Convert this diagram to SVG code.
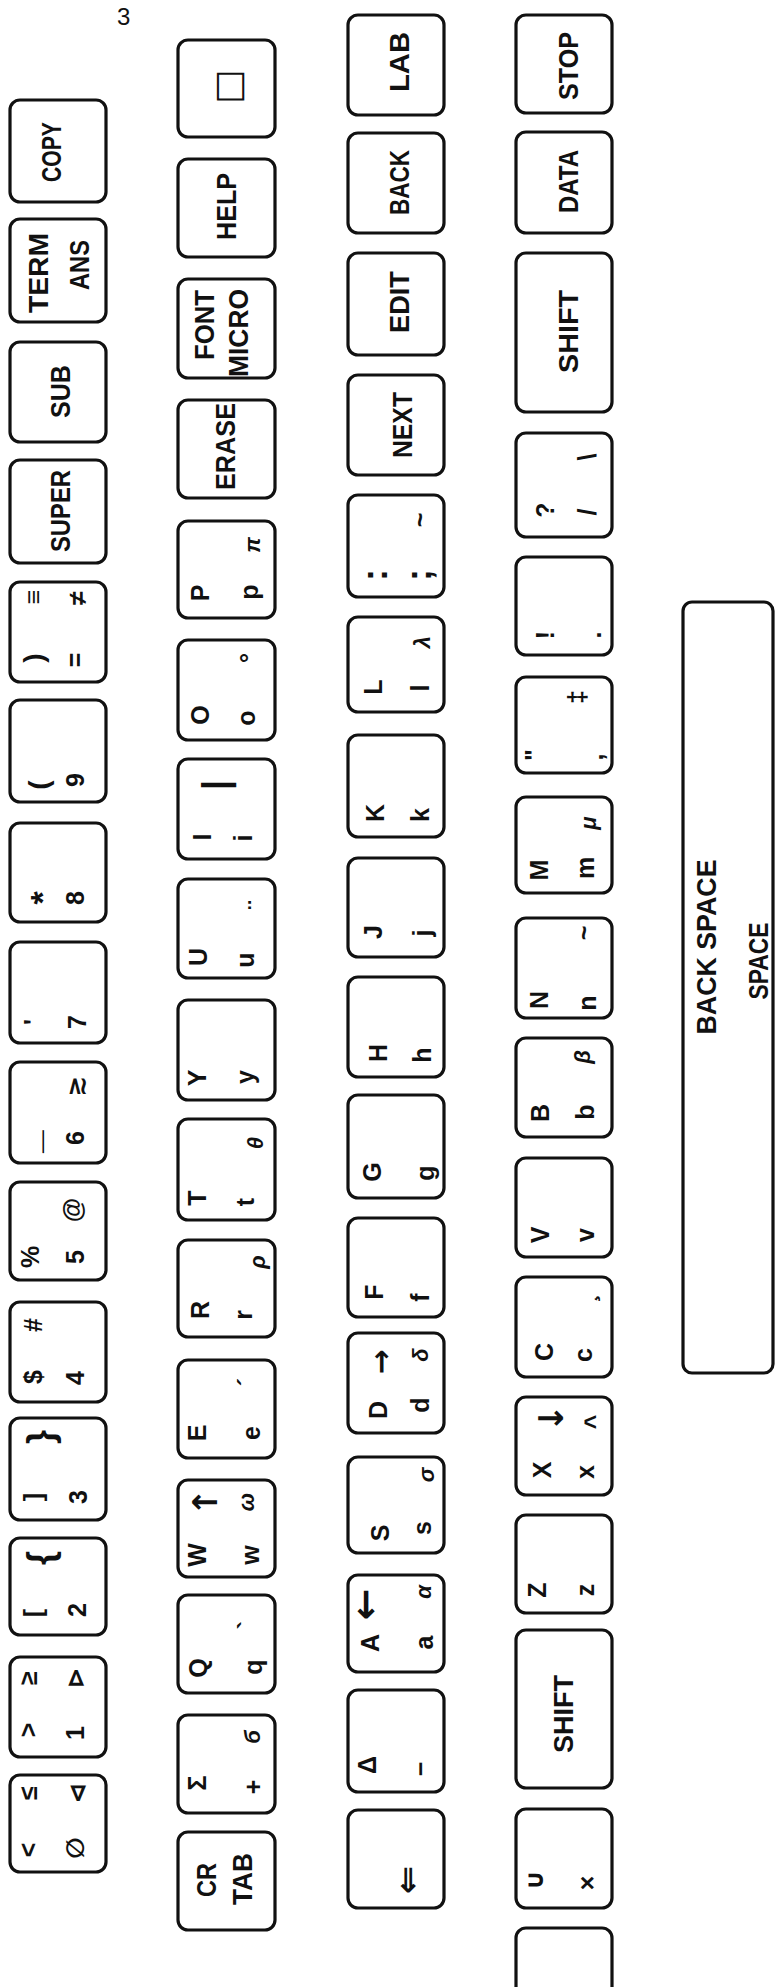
<svg xmlns="http://www.w3.org/2000/svg" width="777" height="1987" viewBox="0 0 777 1987">
<style>
.k rect{fill:none;stroke:#111;stroke-width:3.2}
text{font-family:"Liberation Sans","DejaVu Sans",sans-serif;font-weight:bold;text-anchor:middle;dominant-baseline:central;fill:#111}
.g{font-size:25px}
.s{font-size:22px;font-style:italic}
.n{font-size:27px}
.b{font-size:36px}
.a{font-family:"DejaVu Sans",sans-serif;font-size:34px}
.p{font-weight:normal;font-size:24px;text-anchor:start;dominant-baseline:auto}
</style>
<rect width="777" height="1987" fill="#fff"/>
<text class="p" x="117" y="25">3</text>

<g id="row1">
<g id="k-copy" class="k" transform="translate(58 151) rotate(-90)"><rect x="-51" y="-48" width="102" height="96" rx="10"/><text class="n" x="-1" y="-6" textLength="60" lengthAdjust="spacingAndGlyphs">COPY</text></g>
<g id="k-term" class="k" transform="translate(58 270.5) rotate(-90)"><rect x="-51.5" y="-48" width="103" height="96" rx="10"/><text class="n" x="-2.5" y="-19" textLength="80" lengthAdjust="spacingAndGlyphs">TERM</text><text class="n" x="5.5" y="22" textLength="50" lengthAdjust="spacingAndGlyphs">ANS</text></g>
<g id="k-sub" class="k" transform="translate(58 392) rotate(-90)"><rect x="-50" y="-48" width="100" height="96" rx="10"/><text class="n" x="0.5" y="3" textLength="53" lengthAdjust="spacingAndGlyphs">SUB</text></g>
<g id="k-super" class="k" transform="translate(58 511.5) rotate(-90)"><rect x="-51.5" y="-48" width="103" height="96" rx="10"/><text class="n" x="0.5" y="3" textLength="82" lengthAdjust="spacingAndGlyphs">SUPER</text></g>
<g id="k-equals" class="k" transform="translate(58 632) rotate(-90)"><rect x="-50" y="-48" width="100" height="96" rx="10"/><text class="g" x="-26" y="-25" style="font-size:28px">)</text><text class="g" x="-28" y="17">=</text><text class="g" x="35" y="-25">≡</text><text class="g" x="34" y="19">≠</text></g>
<g id="k-9" class="k" transform="translate(58 751) rotate(-90)"><rect x="-51" y="-48" width="102" height="96" rx="10"/><text class="g" x="-34" y="-20" style="font-size:28px">(</text><text class="g" x="-29" y="17">9</text></g>
<g id="k-8" class="k" transform="translate(58 872.5) rotate(-90)"><rect x="-49.5" y="-48" width="99" height="96" rx="10"/><text class="g" x="-25.5" y="-16" style="font-size:34px">*</text><text class="g" x="-25.5" y="17">8</text></g>
<g id="k-7" class="k" transform="translate(58 992.5) rotate(-90)"><rect x="-50.5" y="-48" width="101" height="96" rx="10"/><text class="g" x="-29.5" y="-25">'</text><text class="g" x="-29.5" y="19">7</text></g>
<g id="k-6" class="k" transform="translate(58 1112.5) rotate(-90)"><rect x="-50.5" y="-48" width="101" height="96" rx="10"/><text class="g" x="-29" y="-19" style="dominant-baseline:auto;font-size:40px">_</text><text class="g" x="-25.5" y="17">6</text><text class="g" x="26.5" y="17">≳</text></g>
<g id="k-5" class="k" transform="translate(58 1231) rotate(-90)"><rect x="-49" y="-48" width="98" height="96" rx="10"/><text class="g" x="-26" y="-28">%</text><text class="g" x="-26" y="17">5</text><text class="g" x="21" y="14">@</text></g>
<g id="k-4" class="k" transform="translate(58 1352) rotate(-90)"><rect x="-50" y="-48" width="100" height="96" rx="10"/><text class="g" x="-25" y="-25">$</text><text class="g" x="-26" y="17">4</text><text class="g" x="27" y="-25">#</text></g>
<g id="k-3" class="k" transform="translate(58 1469) rotate(-90)"><rect x="-51" y="-48" width="102" height="96" rx="10"/><text class="g" x="-28" y="-25">]</text><text class="g" x="-28" y="20">3</text><text class="b" x="32" y="-18">}</text></g>
<g id="k-2" class="k" transform="translate(58 1586.5) rotate(-90)"><rect x="-48.5" y="-48" width="97" height="96" rx="10"/><text class="g" x="-26.5" y="-25">[</text><text class="g" x="-23.5" y="19">2</text><text class="b" x="28.5" y="-18">{</text></g>
<g id="k-1" class="k" transform="translate(58 1707) rotate(-90)"><rect x="-50" y="-48" width="100" height="96" rx="10"/><text class="g" x="-23" y="-30">&gt;</text><text class="g" x="-26" y="17">1</text><text class="g" x="29" y="-30">≥</text><text class="g" x="29" y="17">⊳</text></g>
<g id="k-0" class="k" transform="translate(58 1823.5) rotate(-90)"><rect x="-48.5" y="-48" width="97" height="96" rx="10"/><text class="g" x="-26.5" y="-30">&lt;</text><text class="g" x="-24.5" y="17">∅</text><text class="g" x="30.5" y="-30">≤</text><text class="g" x="30.5" y="19">⊲</text></g>
</g>

<g id="row2">
<g id="k-square" class="k" transform="translate(226.5 88.5) rotate(-90)"><rect x="-48.5" y="-48.5" width="97" height="97" rx="10"/><text class="g" x="2" y="0.5" style="font-size:36px;font-family:'DejaVu Sans',sans-serif">□</text></g>
<g id="k-help" class="k" transform="translate(226.5 208) rotate(-90)"><rect x="-49" y="-48.5" width="98" height="97" rx="10"/><text class="n" x="1.5" y="0" textLength="67" lengthAdjust="spacingAndGlyphs">HELP</text></g>
<g id="k-font" class="k" transform="translate(226.5 328.5) rotate(-90)"><rect x="-49.5" y="-48.5" width="99" height="97" rx="10"/><text class="n" x="3.5" y="-21.5" textLength="70" lengthAdjust="spacingAndGlyphs">FONT</text><text class="n" x="-4.5" y="12.5" textLength="88" lengthAdjust="spacingAndGlyphs">MICRO</text></g>
<g id="k-erase" class="k" transform="translate(226.5 449) rotate(-90)"><rect x="-49" y="-48.5" width="98" height="97" rx="10"/><text class="n" x="2.5" y="-0.5" textLength="87" lengthAdjust="spacingAndGlyphs">ERASE</text></g>
<g id="k-p" class="k" transform="translate(226.5 569.5) rotate(-90)"><rect x="-48.5" y="-48.5" width="97" height="97" rx="10"/><text class="g" x="-23.5" y="-26.5">P</text><text class="g" x="-22.5" y="22">p</text><text class="s" x="24.5" y="26">π</text></g>
<g id="k-o" class="k" transform="translate(226.5 690) rotate(-90)"><rect x="-50" y="-48.5" width="100" height="97" rx="10"/><text class="g" x="-25" y="-26.5">O</text><text class="g" x="-28" y="19">o</text><text class="g" x="32" y="22">°</text></g>
<g id="k-i" class="k" transform="translate(226.5 809) rotate(-90)"><rect x="-50" y="-48.5" width="100" height="97" rx="10"/><text class="g" x="-28" y="-24.5">I</text><text class="g" x="-29" y="16.5">i</text><text class="g" x="24" y="-11.5" style="font-size:36px">|</text></g>
<g id="k-u" class="k" transform="translate(226.5 928.5) rotate(-90)"><rect x="-49.5" y="-48.5" width="99" height="97" rx="10"/><text class="g" x="-28.5" y="-28.5">U</text><text class="g" x="-31.5" y="18">u</text><text class="g" x="23.5" y="30">¨</text></g>
<g id="k-y" class="k" transform="translate(226.5 1050) rotate(-90)"><rect x="-50" y="-48.5" width="100" height="97" rx="10"/><text class="g" x="-28" y="-29.5">Y</text><text class="g" x="-27" y="18">y</text></g>
<g id="k-t" class="k" transform="translate(226.5 1169.5) rotate(-90)"><rect x="-50.5" y="-48.5" width="101" height="97" rx="10"/><text class="g" x="-28.5" y="-29.5">T</text><text class="g" x="-32.5" y="18.5">t</text><text class="s" x="26.5" y="29">θ</text></g>
<g id="k-r" class="k" transform="translate(226.5 1288.5) rotate(-90)"><rect x="-48.5" y="-48.5" width="97" height="97" rx="10"/><text class="g" x="-21.5" y="-26.5">R</text><text class="g" x="-26.5" y="16">r</text><text class="s" x="26.5" y="31">ρ</text></g>
<g id="k-e" class="k" transform="translate(226.5 1409) rotate(-90)"><rect x="-49" y="-48.5" width="98" height="97" rx="10"/><text class="g" x="-24" y="-30">E</text><text class="g" x="-24" y="24">e</text><text class="g" x="27" y="20">´</text></g>
<g id="k-w" class="k" transform="translate(226.5 1528.5) rotate(-90)"><rect x="-48.5" y="-48.5" width="97" height="97" rx="10"/><text class="g" x="-26.5" y="-30">W</text><text class="g" x="-26.5" y="23">w</text><text class="a" x="26.5" y="-21.5">↑</text><text class="s" x="26.5" y="20">ω</text></g>
<g id="k-q" class="k" transform="translate(226.5 1644) rotate(-90)"><rect x="-49" y="-48.5" width="98" height="97" rx="10"/><text class="g" x="-24" y="-29">Q</text><text class="g" x="-23" y="26">q</text><text class="g" x="19" y="20">`</text></g>
<g id="k-plus" class="k" transform="translate(226.5 1764) rotate(-90)"><rect x="-49" y="-48.5" width="98" height="97" rx="10"/><text class="g" x="-19" y="-29.5">Σ</text><text class="g" x="-23" y="26.5">+</text><text class="s" x="27" y="26">б</text></g>
<g id="k-cr" class="k" transform="translate(226.5 1881) rotate(-90)"><rect x="-49" y="-48.5" width="98" height="97" rx="10"/><text class="n" x="1" y="-20" textLength="34" lengthAdjust="spacingAndGlyphs">CR</text><text class="n" x="2" y="16.5" textLength="52" lengthAdjust="spacingAndGlyphs">TAB</text></g>
</g>

<g id="row3">
<g id="k-lab" class="k" transform="translate(396 65) rotate(-90)"><rect x="-50" y="-48" width="100" height="96" rx="10"/><text class="n" x="3" y="4" textLength="60" lengthAdjust="spacingAndGlyphs">LAB</text></g>
<g id="k-back" class="k" transform="translate(396 183) rotate(-90)"><rect x="-50" y="-48" width="100" height="96" rx="10"/><text class="n" x="0.5" y="4" textLength="65" lengthAdjust="spacingAndGlyphs">BACK</text></g>
<g id="k-edit" class="k" transform="translate(396 304) rotate(-90)"><rect x="-51" y="-48" width="102" height="96" rx="10"/><text class="n" x="2" y="4" textLength="62" lengthAdjust="spacingAndGlyphs">EDIT</text></g>
<g id="k-next" class="k" transform="translate(396 425) rotate(-90)"><rect x="-50" y="-48" width="100" height="96" rx="10"/><text class="n" x="0" y="7" textLength="66" lengthAdjust="spacingAndGlyphs">NEXT</text></g>
<g id="k-semi" class="k" transform="translate(396 546) rotate(-90)"><rect x="-51" y="-48" width="102" height="96" rx="10"/><text class="b" x="-29" y="-22">:</text><text class="b" x="-29" y="22">;</text><text class="g" x="26" y="24">~</text></g>
<g id="k-l" class="k" transform="translate(396 664.5) rotate(-90)"><rect x="-47.5" y="-48" width="95" height="96" rx="10"/><text class="g" x="-22.5" y="-23">L</text><text class="g" x="-23.5" y="24">l</text><text class="s" x="22.5" y="26">λ</text></g>
<g id="k-k" class="k" transform="translate(396 786) rotate(-90)"><rect x="-51" y="-48" width="102" height="96" rx="10"/><text class="g" x="-27" y="-21">K</text><text class="g" x="-29" y="24">k</text></g>
<g id="k-j" class="k" transform="translate(396 907.5) rotate(-90)"><rect x="-49.5" y="-48" width="99" height="96" rx="10"/><text class="g" x="-24.5" y="-23">J</text><text class="g" x="-25.5" y="26">j</text></g>
<g id="k-h" class="k" transform="translate(396 1027) rotate(-90)"><rect x="-50" y="-48" width="100" height="96" rx="10"/><text class="g" x="-26" y="-18">H</text><text class="g" x="-28" y="26">h</text></g>
<g id="k-g" class="k" transform="translate(396 1146.5) rotate(-90)"><rect x="-51.5" y="-48" width="103" height="96" rx="10"/><text class="g" x="-25.5" y="-24">G</text><text class="g" x="-26.5" y="29">g</text></g>
<g id="k-f" class="k" transform="translate(396 1267.5) rotate(-90)"><rect x="-49.5" y="-48" width="99" height="96" rx="10"/><text class="g" x="-24.5" y="-22">F</text><text class="g" x="-30" y="24">f</text></g>
<g id="k-d" class="k" transform="translate(396 1383) rotate(-90)"><rect x="-50" y="-48" width="100" height="96" rx="10"/><text class="g" x="-27" y="-18">D</text><text class="a" x="21" y="-16" style="font-size:30px">→</text><text class="g" x="-22" y="24">d</text><text class="s" x="28" y="24">δ</text></g>
<g id="k-s" class="k" transform="translate(396 1505) rotate(-90)"><rect x="-48" y="-48" width="96" height="96" rx="10"/><text class="g" x="-28" y="-16">S</text><text class="g" x="-23" y="26">s</text><text class="s" x="30" y="30">σ</text></g>
<g id="k-a" class="k" transform="translate(396 1623.5) rotate(-90)"><rect x="-48.5" y="-48" width="97" height="96" rx="10"/><text class="g" x="-19.5" y="-26">A</text><text class="g" x="-19" y="28">a</text><text class="a" x="19" y="-31" style="font-size:38px">←</text><text class="s" x="31.5" y="27">α</text></g>
<g id="k-minus" class="k" transform="translate(396 1741) rotate(-90)"><rect x="-51" y="-48" width="102" height="96" rx="10"/><text class="g" x="-24" y="-29">Δ</text><text class="g" x="-28" y="24">−</text></g>
<g id="k-assign" class="k" transform="translate(396 1859) rotate(-90)"><rect x="-49" y="-48" width="98" height="96" rx="10"/><text class="a" x="-21" y="11">⇐</text></g>
</g>

<g id="row4">
<g id="k-stop" class="k" transform="translate(564 64) rotate(-90)"><rect x="-49" y="-48" width="98" height="96" rx="10"/><text class="n" x="-2" y="5" textLength="68" lengthAdjust="spacingAndGlyphs">STOP</text></g>
<g id="k-data" class="k" transform="translate(564 182.5) rotate(-90)"><rect x="-50.5" y="-48" width="101" height="96" rx="10"/><text class="n" x="1" y="5" textLength="63" lengthAdjust="spacingAndGlyphs">DATA</text></g>
<g id="k-shift-r" class="k" transform="translate(564 332.5) rotate(-90)"><rect x="-79.5" y="-48" width="159" height="96" rx="10"/><text class="n" x="1" y="4.5" textLength="83" lengthAdjust="spacingAndGlyphs">SHIFT</text></g>
<g id="k-slash" class="k" transform="translate(564 485) rotate(-90)"><rect x="-52" y="-48" width="104" height="96" rx="10"/><text class="g" x="-25" y="-19">?</text><text class="g" x="-27" y="23">/</text><text class="g" x="28" y="23">\</text></g>
<g id="k-period" class="k" transform="translate(564 606) rotate(-90)"><rect x="-49" y="-48" width="98" height="96" rx="10"/><text class="g" x="-29" y="-19">!</text><text class="g" x="-29" y="28">.</text></g>
<g id="k-comma" class="k" transform="translate(564 725) rotate(-90)"><rect x="-48" y="-48" width="96" height="96" rx="10"/><text class="g" x="-30" y="-30">"</text><text class="g" x="-32" y="30">,</text><text class="g" x="28" y="13">‡</text></g>
<g id="k-m" class="k" transform="translate(564 845) rotate(-90)"><rect x="-48" y="-48" width="96" height="96" rx="10"/><text class="g" x="-25" y="-25">M</text><text class="g" x="-23" y="21">m</text><text class="s" x="22" y="24">μ</text></g>
<g id="k-n" class="k" transform="translate(564 968) rotate(-90)"><rect x="-50" y="-48" width="100" height="96" rx="10"/><text class="g" x="-32" y="-25">N</text><text class="g" x="-35" y="23">n</text><text class="g" x="35" y="20">~</text></g>
<g id="k-b" class="k" transform="translate(564 1087.5) rotate(-90)"><rect x="-49.5" y="-48" width="99" height="96" rx="10"/><text class="g" x="-25.5" y="-24">B</text><text class="g" x="-24.5" y="21">b</text><text class="s" x="30.5" y="18">β</text></g>
<g id="k-v" class="k" transform="translate(564 1207.5) rotate(-90)"><rect x="-49.5" y="-48" width="99" height="96" rx="10"/><text class="g" x="-27.5" y="-24">V</text><text class="g" x="-27.5" y="21">v</text></g>
<g id="k-c" class="k" transform="translate(564 1327) rotate(-90)"><rect x="-50" y="-48" width="100" height="96" rx="10"/><text class="g" x="-25" y="-20">C</text><text class="g" x="-28" y="19">c</text><text class="g" x="29" y="22">¸</text></g>
<g id="k-x" class="k" transform="translate(564 1446) rotate(-90)"><rect x="-49" y="-48" width="98" height="96" rx="10"/><text class="g" x="-24" y="-22">X</text><text class="g" x="-26" y="21">x</text><text class="a" x="28" y="-13">↓</text><text class="g" x="24" y="30">^</text></g>
<g id="k-z" class="k" transform="translate(564 1564) rotate(-90)"><rect x="-49" y="-48" width="98" height="96" rx="10"/><text class="g" x="-26" y="-27">Z</text><text class="g" x="-26" y="21">z</text></g>
<g id="k-shift-l" class="k" transform="translate(564 1709) rotate(-90)"><rect x="-79" y="-48" width="158" height="96" rx="10"/><text class="n" x="-5" y="0" textLength="78" lengthAdjust="spacingAndGlyphs">SHIFT</text></g>
<g id="k-times" class="k" transform="translate(564 1858.5) rotate(-90)"><rect x="-49.5" y="-48" width="99" height="96" rx="10"/><text class="g" x="-21.5" y="-30">∪</text><text class="g" x="-24.5" y="23">×</text></g>
<g id="k-blank" class="k" transform="translate(564 1978) rotate(-90)"><rect x="-50" y="-48" width="100" height="96" rx="10"/></g>
</g>

<g id="row5">
<g id="k-space" class="k" transform="translate(728 987.5) rotate(-90)"><rect x="-385.5" y="-45" width="771" height="90" rx="9"/><text class="n" x="40.5" y="-22" style="font-size:28px" textLength="175" lengthAdjust="spacingAndGlyphs">BACK SPACE</text><text class="n" x="26.5" y="30" style="font-size:28px" textLength="77" lengthAdjust="spacingAndGlyphs">SPACE</text></g>
</g>

<g id="connectors"></g>
</svg>
